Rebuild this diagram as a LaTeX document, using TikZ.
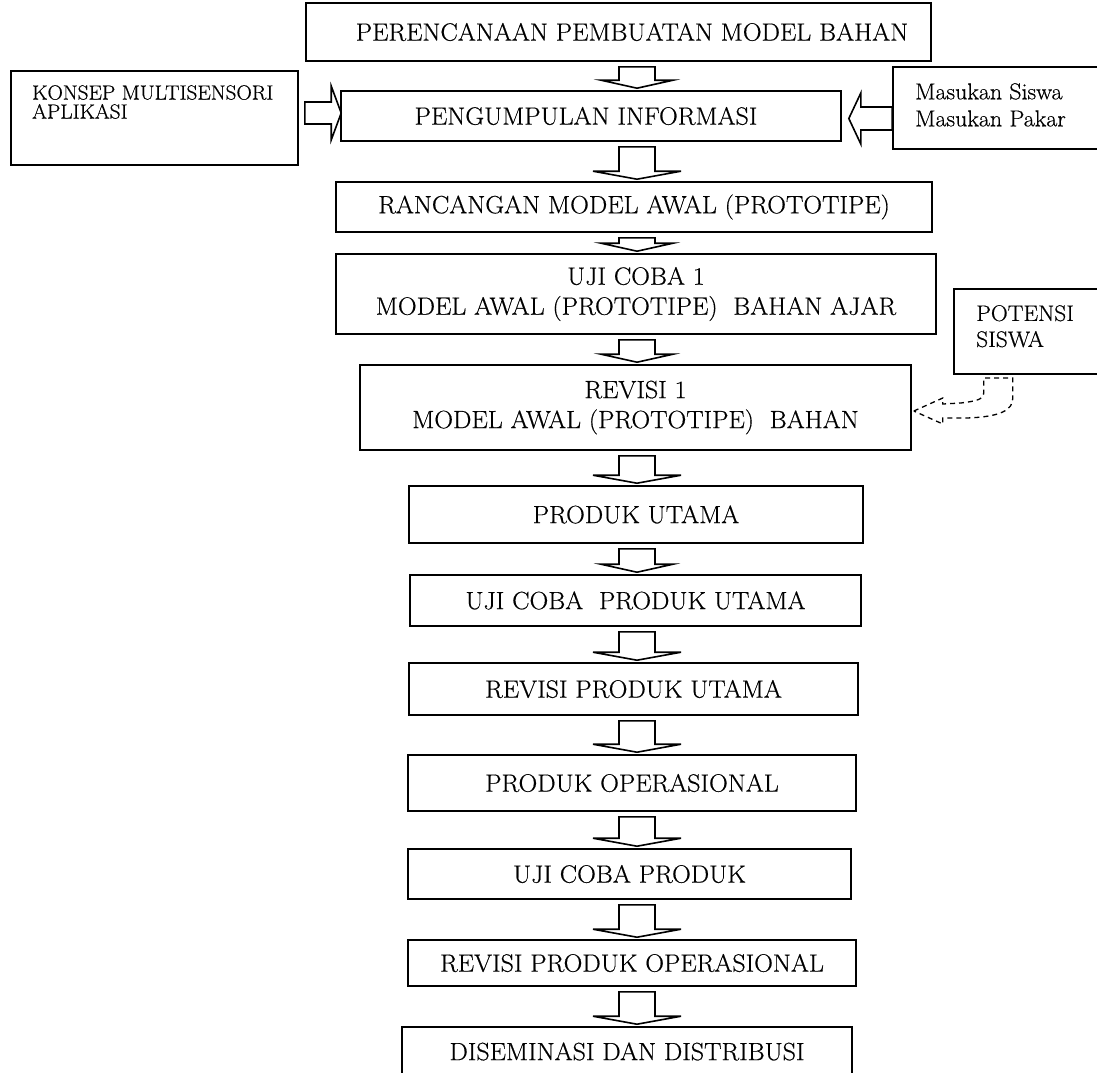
\documentclass[tikz,border=0pt]{standalone}
\usepackage{fontspec}
\setmainfont{Latin Modern Roman}[FakeStretch=1.04, FakeBold=0.5]
\usetikzlibrary{calc}
\newcommand\blockdown[4][36]{%
  \draw[blk] let \p1=(#2.south), \p2=(#3.north) in
    ({#4pt-18pt},{\y1-5pt}) -- ({#4pt-18pt},{\y2+10pt}) -- ({#4pt-#1pt},{\y2+10pt})
    -- ({#4pt},{\y2+2pt}) -- ({#4pt+#1pt},{\y2+10pt}) -- ({#4pt+18pt},{\y2+10pt})
    -- ({#4pt+18pt},{\y1-5pt}) -- cycle;}
\begin{document}
\begin{tikzpicture}[x=1pt,y=-1pt,
  mainbox/.style={draw, line width=1.6pt, inner sep=0pt, align=center,
    font=\fontsize{25}{30}\selectfont},
  maintext/.style={inner sep=0pt, font=\fontsize{25}{30}\selectfont},
  sidebox/.style={draw, line width=1.6pt, inner sep=0pt},
  sidetext/.style={inner sep=0pt, align=left, anchor=north west},
  blk/.style={draw, line width=1.6pt, line join=miter},
  dashedblk/.style={draw, line width=1.3pt, dash pattern=on 5pt off 4pt}]
\useasboundingbox (0,0) rectangle (1097,1072);
\fill[white] (0,0) rectangle (1097,1072);
\clip (0,0) rectangle (1097,1072);

% main chain
\node[mainbox, minimum width=625pt, minimum height=58pt] (b1) at (618.5,32) {};
\node[maintext] (b1t) at (632,32) {PERENCANAAN PEMBUATAN MODEL BAHAN};
\node[mainbox, minimum width=500pt, minimum height=50pt] (b2) at (591,116) {};
\node[maintext] (b2t) at (586,116) {PENGUMPULAN INFORMASI};
\node[mainbox, minimum width=596pt, minimum height=50pt] (b3) at (634,207) {RANCANGAN MODEL AWAL (PROTOTIPE)};
\node[mainbox, minimum width=600pt, minimum height=80pt] (b4) at (636,294) {UJI COBA 1\\MODEL AWAL (PROTOTIPE)\ \ BAHAN AJAR};
\node[mainbox, minimum width=551pt, minimum height=85pt] (b5) at (635.5,407.5) {REVISI 1\\MODEL AWAL (PROTOTIPE)\ \ BAHAN};
\node[mainbox, minimum width=454pt, minimum height=57pt] (b6) at (636,514.5) {PRODUK UTAMA};
\node[mainbox, minimum width=451pt, minimum height=51pt] (b7) at (635.5,600.5) {UJI COBA\ \ PRODUK UTAMA};
\node[mainbox, minimum width=449pt, minimum height=52pt] (b8) at (633.5,689) {REVISI PRODUK UTAMA};
\node[mainbox, minimum width=448pt, minimum height=56pt] (b9) at (632,783) {PRODUK OPERASIONAL};
\node[mainbox, minimum width=443pt, minimum height=50pt] (b10) at (629.5,874) {UJI COBA PRODUK};
\node[mainbox, minimum width=448pt, minimum height=46pt] (b11) at (632,963) {REVISI PRODUK OPERASIONAL};
\node[mainbox, minimum width=450pt, minimum height=49pt] (b12) at (627,1051.5) {DISEMINASI DAN DISTRIBUSI};

% side boxes
\node[sidebox, minimum width=287pt, minimum height=94pt] (konsep) at (154.5,118) {};
\node[sidetext, font=\fontsize{20.5}{19}\selectfont] (konsept) at (32,85) {KONSEP MULTISENSORI\\APLIKASI};
\node[sidebox, minimum width=227pt, minimum height=82pt] (masukan) at (1006.5,108) {};
\node[sidetext, font=\fontsize{23}{27}\selectfont] (masukant) at (915,83) {Masukan Siswa\\Masukan Pakar};
\node[sidebox, minimum width=166pt, minimum height=85pt] (potensi) at (1037,331.5) {};
\node[sidetext, font=\fontsize{22.5}{26}\selectfont] (potensit) at (976,305) {POTENSI\\SISWA};

% vertical block arrows
\blockdown{b1}{b2}{637}
\blockdown[44]{b2}{b3}{637}
\blockdown{b3}{b4}{637}
\blockdown{b4}{b5}{637}
\blockdown[44]{b5}{b6}{637}
\blockdown{b6}{b7}{637}
\blockdown[44]{b7}{b8}{637}
\blockdown[44]{b8}{b9}{637}
\blockdown[44]{b9}{b10}{637}
\blockdown[44]{b10}{b11}{637}
\blockdown[44]{b11}{b12}{637}

% horizontal block arrows
\draw[blk] let \p1=(konsep.east), \p2=(b2.west) in
  ({\x1+6pt},-102pt) -- ({\x2-9pt},-102pt) -- ({\x2-9pt},-86pt) -- ({\x2+1pt},-113pt)
  -- ({\x2-9pt},-140pt) -- ({\x2-9pt},-124pt) -- ({\x1+6pt},-124pt) -- cycle;
\draw[blk] let \p1=(masukan.west), \p2=(b2.east) in
  ({\x1},-107pt) -- ({\x2+19pt},-107pt) -- ({\x2+19pt},-93pt) -- ({\x2+7pt},-118.5pt)
  -- ({\x2+19pt},-144pt) -- ({\x2+19pt},-130pt) -- ({\x1},-130pt) -- cycle;

% dashed curved arrow from POTENSI SISWA to REVISI 1
\coordinate (ptip) at ($(b5.east)+(2,3.5)$);
\begin{scope}[shift={(ptip)}]
\draw[dashedblk] (0,0) -- (29,-13) -- (29,-7) -- (47,-8)
  .. controls (62,-10) and (70,-11) .. (70,-19) -- (70,-33) -- (99,-33) -- (99,-13)
  .. controls (99,-1) and (87,6) .. (52,7) -- (29,7) -- (29,13) -- cycle;
\end{scope}
\end{tikzpicture}
\end{document}
